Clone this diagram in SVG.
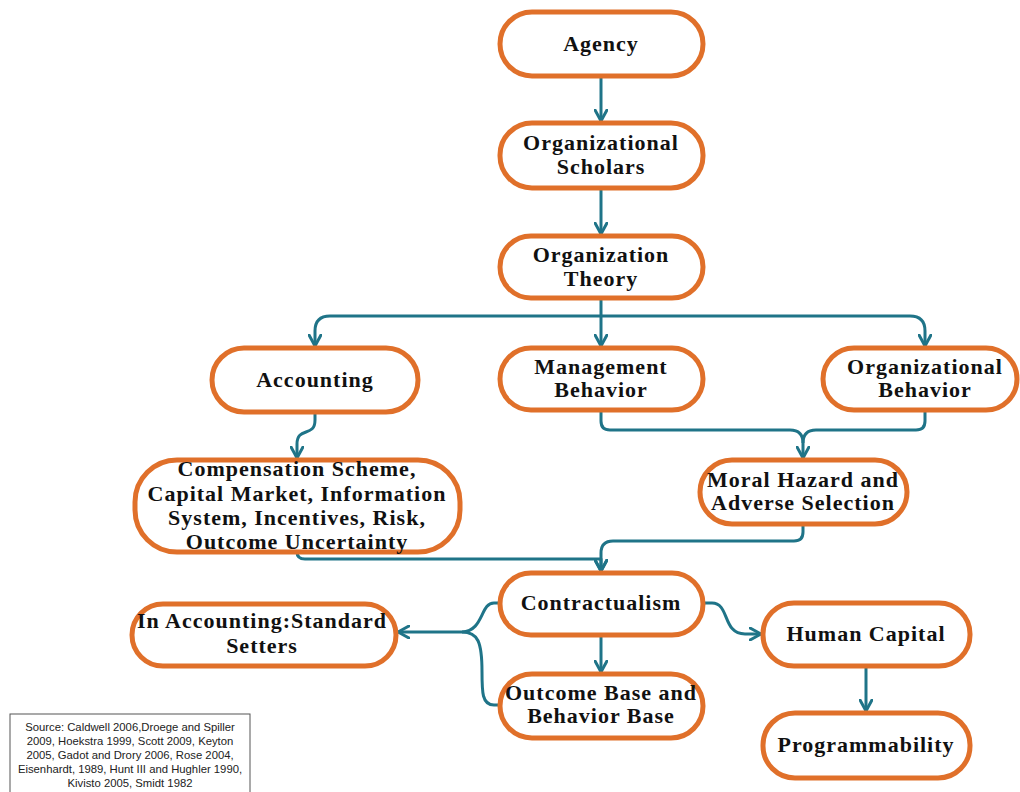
<svg xmlns="http://www.w3.org/2000/svg" width="1020" height="792" viewBox="0 0 1020 792">
<style>
.n rect{fill:#fff;stroke:#e0702a;stroke-width:5}
.n text{font-family:"Liberation Serif","Times New Roman",serif;font-weight:bold;font-size:22px;letter-spacing:1px;fill:#111;text-anchor:middle}
.c path{fill:none;stroke:#1f7488;stroke-width:3;stroke-linejoin:round}
.src text{font-family:"Liberation Sans",Arial,sans-serif;font-size:11.3px;fill:#222;text-anchor:middle}
</style>
<defs>
<marker id="ar" viewBox="0 0 14 14" refX="12" refY="7" markerWidth="14" markerHeight="14" markerUnits="userSpaceOnUse" orient="auto">
<path d="M1,1 L12,7 L1,13" fill="none" stroke="#1f7488" stroke-width="3" stroke-linecap="round"/>
</marker>
</defs>
<rect width="1020" height="792" fill="#fff"/>
<g class="c" id="connectors">
<path d="M601,76 V121" marker-end="url(#ar)"/>
<path d="M601,188 V234" marker-end="url(#ar)"/>
<path d="M601,298 V346" marker-end="url(#ar)"/>
<path d="M601,316 H330 Q315,316 315,331 V346" marker-end="url(#ar)"/>
<path d="M601,316 H910 Q925,316 925,331 V346" marker-end="url(#ar)"/>
<path d="M315,412 V420 C315,438 297,426 297,444 V458" marker-end="url(#ar)"/>
<path d="M601,410 V421 Q601,430 610,430 H790 Q803,430 803,443 V458" marker-end="url(#ar)"/>
<path d="M925,410 V421 Q925,430 916,430 H816 Q803,430 803,443"/>
<path d="M297,552 Q297,559 305,559 H601 V571" marker-end="url(#ar)"/>
<path d="M803,524 V532 Q803,541 794,541 H613 Q601,541 601,553 V571" marker-end="url(#ar)"/>
<path d="M500,603 H494 C480,603 484,631 462,632 H398" marker-end="url(#ar)"/>
<path d="M500,705 H494 C482,705 482,692 482,672 C482,642 478,632 462,632"/>
<path d="M601,635 V672" marker-end="url(#ar)"/>
<path d="M703,603 H712 C730,603 722,634 745,634 H761" marker-end="url(#ar)"/>
<path d="M866,666 V711" stroke-width="4" marker-end="url(#ar)"/>
</g>
<g class="n" id="agency"><rect x="500" y="12" width="203" height="64" rx="32"/><text x="601" y="51">Agency</text></g>
<g class="n" id="scholars"><rect x="500" y="123" width="203" height="65" rx="32"/><text x="601" y="150">Organizational</text><text x="601" y="174">Scholars</text></g>
<g class="n" id="theory"><rect x="500" y="236" width="203" height="62" rx="31"/><text x="601" y="262">Organization</text><text x="601" y="286">Theory</text></g>
<g class="n" id="accounting"><rect x="212" y="348" width="206" height="64" rx="32"/><text x="315" y="387">Accounting</text></g>
<g class="n" id="management"><rect x="500" y="348" width="203" height="62" rx="31"/><text x="601" y="374">Management</text><text x="601" y="397">Behavior</text></g>
<g class="n" id="orgbehavior"><rect x="823" y="348" width="194" height="62" rx="31"/><text x="925" y="374">Organizational</text><text x="925" y="397">Behavior</text></g>
<g class="n" id="compensation"><rect x="135" y="460" width="325" height="92" rx="42"/><text x="297" y="476">Compensation Scheme,</text><text x="297" y="501">Capital Market, Information</text><text x="297" y="525">System, Incentives, Risk,</text><text x="297" y="549">Outcome Uncertainty</text></g>
<g class="n" id="moralhazard"><rect x="700" y="460" width="207" height="64" rx="32"/><text x="803" y="487">Moral Hazard and</text><text x="803" y="510">Adverse Selection</text></g>
<g class="n" id="contractualism"><rect x="500" y="573" width="203" height="62" rx="31"/><text x="601" y="610">Contractualism</text></g>
<g class="n" id="standard"><rect x="132" y="604" width="264" height="62" rx="31"/><text x="262" y="628">In Accounting:Standard</text><text x="262" y="653">Setters</text></g>
<g class="n" id="outcome"><rect x="500" y="674" width="203" height="64" rx="32"/><text x="601" y="700">Outcome Base and</text><text x="601" y="723">Behavior Base</text></g>
<g class="n" id="human"><rect x="763" y="603" width="207" height="63" rx="31"/><text x="866" y="641">Human Capital</text></g>
<g class="n" id="program"><rect x="763" y="713" width="207" height="65" rx="32"/><text x="866" y="752">Programmability</text></g>
<g class="src" id="source">
<rect x="10" y="714" width="240" height="90" fill="#fff" stroke="#555" stroke-width="1"/>
<text x="130" y="731">Source: Caldwell 2006,Droege and Spiller</text>
<text x="130" y="745">2009, Hoekstra 1999, Scott 2009, Keyton</text>
<text x="130" y="759">2005, Gadot and Drory 2006, Rose 2004,</text>
<text x="130" y="773">Eisenhardt, 1989, Hunt III and Hughler 1990,</text>
<text x="130" y="787">Kivisto 2005, Smidt 1982</text>
</g>
</svg>
